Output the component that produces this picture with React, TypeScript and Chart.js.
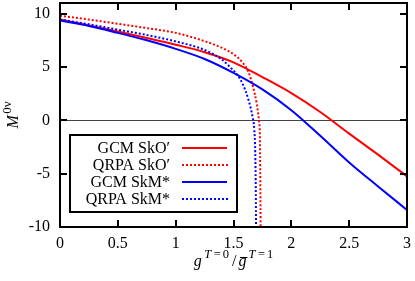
import React, { useEffect, useRef } from 'react';
import { Chart, registerables } from 'chart.js';

Chart.register(...registerables);

// ---- data ----
const gcmX = [0, 0.25, 0.5, 0.75, 1.0, 1.25, 1.5, 1.75, 2.0, 2.25, 2.5, 2.75, 3.0];
const gcmSkOY = [9.45, 8.9, 8.32, 7.72, 7.09, 6.39, 5.44, 4.05, 2.55, 0.78, -1.25, -3.22, -5.25];
const gcmSkMY = [9.35, 8.85, 8.2, 7.5, 6.7, 5.75, 4.45, 2.9, 0.95, -1.45, -3.95, -6.2, -8.4];
const qrpaSkOX = [0, 0.25, 0.5, 0.75, 1.0, 1.2, 1.4, 1.5, 1.58, 1.63, 1.67, 1.7, 1.72, 1.728, 1.732, 1.736];
const qrpaSkOY = [9.8, 9.45, 9.05, 8.65, 8.2, 7.6, 6.8, 6.2, 5.4, 4.5, 3.1, 1.6, 0, -1.5, -6, -14];
const qrpaSkMX = [0, 0.25, 0.5, 0.75, 1.0, 1.2, 1.3, 1.4, 1.47, 1.53, 1.58, 1.63, 1.665, 1.68, 1.688, 1.693, 1.697];
const qrpaSkMY = [9.45, 9.0, 8.5, 8.0, 7.4, 6.8, 6.35, 5.7, 5.0, 4.3, 3.4, 1.9, 0.3, -0.9, -3, -7, -14];

const seriesLabels = ['GCM SkO\u2032', 'QRPA SkO\u2032', 'GCM SkM*', 'QRPA SkM*'];
const xTicks = [0, 0.5, 1, 1.5, 2, 2.5, 3];
const yTicks = [-10, -5, 0, 5, 10];
const xRange = [0, 3];
const yRange = [-10, 11];

const FONT = '"Liberation Serif", "Times New Roman", serif';
const RED = '#ff0000';
const BLUE = '#0000ff';

const pts = (xs: number[], ys: number[]) => xs.map((x, i) => ({ x, y: ys[i] }));

type Piece = { t: string; f: string; dy: number; gapAfter: number; bar?: boolean };

function drawPieces(ctx: CanvasRenderingContext2D, pieces: Piece[], startX: number, baseY: number) {
  let x = startX;
  for (const p of pieces) {
    ctx.font = p.f;
    const w = ctx.measureText(p.t).width;
    ctx.fillText(p.t, x, baseY + p.dy);
    if (p.bar) {
      ctx.fillRect(x + 1.5, baseY + p.dy - 9, w - 0.5, 1);
    }
    x += w + p.gapAfter;
  }
  return x - startX;
}

function piecesWidth(ctx: CanvasRenderingContext2D, pieces: Piece[]) {
  let w = 0;
  for (const p of pieces) {
    ctx.font = p.f;
    w += ctx.measureText(p.t).width + p.gapAfter;
  }
  return w;
}

function drawFrame(chart: any) {
  const { ctx, chartArea: a, scales } = chart;
  const L = Math.round(a.left);
  const T = Math.round(a.top);
  const R = Math.round(a.right);
  const B = Math.round(a.bottom);
  ctx.save();
  ctx.fillStyle = '#000000';
  ctx.beginPath();
  ctx.rect(L - 1, T - 1, R - L + 2, 2);
  ctx.rect(L - 1, B - 1, R - L + 2, 2);
  ctx.rect(L - 1, T - 1, 2, B - T + 2);
  ctx.rect(R - 1, T - 1, 2, B - T + 2);
  for (const v of xTicks) {
    const px = Math.round(scales.x.getPixelForValue(v));
    ctx.rect(px - 1, B - 7, 2, 6);
    ctx.rect(px - 1, T + 1, 2, 6);
  }
  for (const v of yTicks) {
    const py = Math.round(scales.y.getPixelForValue(v));
    ctx.rect(L + 1, py - 1, 6, 2);
    ctx.rect(R - 7, py - 1, 6, 2);
  }
  ctx.fill();
  ctx.restore();
}

const decorPlugin = {
  id: 'decor',
  afterDraw(chart: any) {
    const { ctx, chartArea: a } = chart;
    ctx.save();
    const L = Math.round(a.left);
    const T = Math.round(a.top);

    // legend
    const bx = L + 10;
    const by = T + 132;
    const bw = 167;
    const bh = 77;
    ctx.fillStyle = '#fff';
    ctx.fillRect(bx, by, bw, bh);
    ctx.fillStyle = '#000';
    ctx.fillRect(bx - 1, by - 1, bw + 2, 2);
    ctx.fillRect(bx - 1, by + bh - 1, bw + 2, 2);
    ctx.fillRect(bx - 1, by - 1, 2, bh + 2);
    ctx.fillRect(bx + bw - 1, by - 1, 2, bh + 2);
    const colors = [RED, RED, BLUE, BLUE];
    const dashed = [false, true, false, true];
    ctx.font = `16px ${FONT}`;
    ctx.textAlign = 'right';
    ctx.textBaseline = 'middle';
    seriesLabels.forEach((lab, i) => {
      const ly = by + 13 + i * 17;
      ctx.fillStyle = '#000';
      ctx.fillText(lab, bx + 100, ly + 1);
      ctx.fillStyle = colors[i];
      if (dashed[i]) {
        for (let x = bx + 112; x < bx + 157; x += 4) ctx.fillRect(x, ly - 1, 2, 2);
      } else {
        ctx.fillRect(bx + 112, ly - 1, 45, 2);
      }
    });

    // x title: g^{T=0} / ḡ^{T=1}
    ctx.fillStyle = '#000';
    ctx.textAlign = 'left';
    ctx.textBaseline = 'alphabetic';
    const big = `16px ${FONT}`;
    const bigI = `italic 16px ${FONT}`;
    const sm = `12.5px ${FONT}`;
    const smI = `italic 12.5px ${FONT}`;
    const xt: Piece[] = [
      { t: 'g', f: bigI, dy: 0, gapAfter: 2.5 },
      { t: 'T', f: smI, dy: -8.5, gapAfter: 2.5 },
      { t: '=', f: sm, dy: -8.5, gapAfter: 2 },
      { t: '0', f: sm, dy: -8.5, gapAfter: 3 },
      { t: '/', f: big, dy: 0, gapAfter: 2 },
      { t: 'g', f: bigI, dy: 0, gapAfter: 2, bar: true },
      { t: 'T', f: smI, dy: -8.5, gapAfter: 2.5 },
      { t: '=', f: sm, dy: -8.5, gapAfter: 2 },
      { t: '1', f: sm, dy: -8.5, gapAfter: 0 },
    ];
    const cx = (a.left + a.right) / 2;
    const xw = piecesWidth(ctx, xt);
    drawPieces(ctx, xt, cx - xw / 2, 266);

    // y title: M^{0ν}
    const yt: Piece[] = [
      { t: 'M', f: bigI, dy: 0, gapAfter: 1.5 },
      { t: '0\u03bd', f: `13px ${FONT}`, dy: -7, gapAfter: 0 },
    ];
    const yw = piecesWidth(ctx, yt);
    const cy = (a.top + a.bottom) / 2;
    ctx.translate(18, cy + yw / 2);
    ctx.rotate(-Math.PI / 2);
    drawPieces(ctx, yt, 0, 0);
    ctx.restore();

    // plot frame with inward ticks on all four sides
    drawFrame(chart);
  },
};

const noGrid = { display: false, drawTicks: false };

export default function App() {
  const ref = useRef<HTMLCanvasElement | null>(null);
  useEffect(() => {
    if (!ref.current) return;
    const base = { pointRadius: 0, borderWidth: 2, fill: false, cubicInterpolationMode: 'monotone' as const };
    const chart = new Chart(ref.current, {
      type: 'line',
      data: {
        datasets: [
          { ...base, label: seriesLabels[0], data: pts(gcmX, gcmSkOY), borderColor: RED, order: 4 },
          { ...base, label: seriesLabels[1], data: pts(qrpaSkOX, qrpaSkOY), borderColor: RED, borderDash: [2, 2], order: 3 },
          { ...base, label: seriesLabels[2], data: pts(gcmX, gcmSkMY), borderColor: BLUE, order: 2 },
          { ...base, label: seriesLabels[3], data: pts(qrpaSkMX, qrpaSkMY), borderColor: BLUE, borderDash: [2, 2], order: 1 },
        ],
      },
      options: {
        responsive: false,
        animation: false,
        layout: { padding: { left: 0, right: 8, top: 3, bottom: 0 } },
        plugins: { legend: { display: false }, tooltip: { enabled: false }, title: { display: false } },
        scales: {
          x: {
            type: 'linear',
            position: 'bottom',
            min: xRange[0],
            max: xRange[1],
            grid: noGrid,
            border: { display: false },
            ticks: {
              color: '#000',
              padding: 7,
              font: { family: FONT, size: 16 },
              maxRotation: 0,
              callback: (v: any) => String(v),
            },
            afterBuildTicks: (s: any) => {
              s.ticks = xTicks.map((v) => ({ value: v }));
            },
            afterFit: (s: any) => {
              s.height = 54;
              s.paddingLeft = 0;
              s.paddingRight = 0;
            },
          },
          y: {
            type: 'linear',
            position: 'left',
            min: yRange[0],
            max: yRange[1],
            grid: {
              display: true,
              drawTicks: false,
              drawOnChartArea: true,
              lineWidth: 1,
              color: (c: any) => (c.tick && c.tick.value === 0 ? '#444' : 'rgba(0,0,0,0)'),
            },
            border: { display: false },
            ticks: {
              color: '#000',
              padding: 10,
              font: { family: FONT, size: 16 },
              callback: (v: any) => String(v),
            },
            afterBuildTicks: (s: any) => {
              s.ticks = yTicks.map((v) => ({ value: v }));
            },
            afterFit: (s: any) => {
              s.width = 60;
              s.paddingTop = 0;
              s.paddingBottom = 0;
            },
          },
        },
      },
      plugins: [decorPlugin],
    });
    return () => chart.destroy();
  }, []);
  return (
    <div style={{ position: 'absolute', left: 0, top: 0, width: 415, height: 281, background: '#fff' }}>
      <canvas ref={ref} width={415} height={281} style={{ display: 'block' }} />
    </div>
  );
}
